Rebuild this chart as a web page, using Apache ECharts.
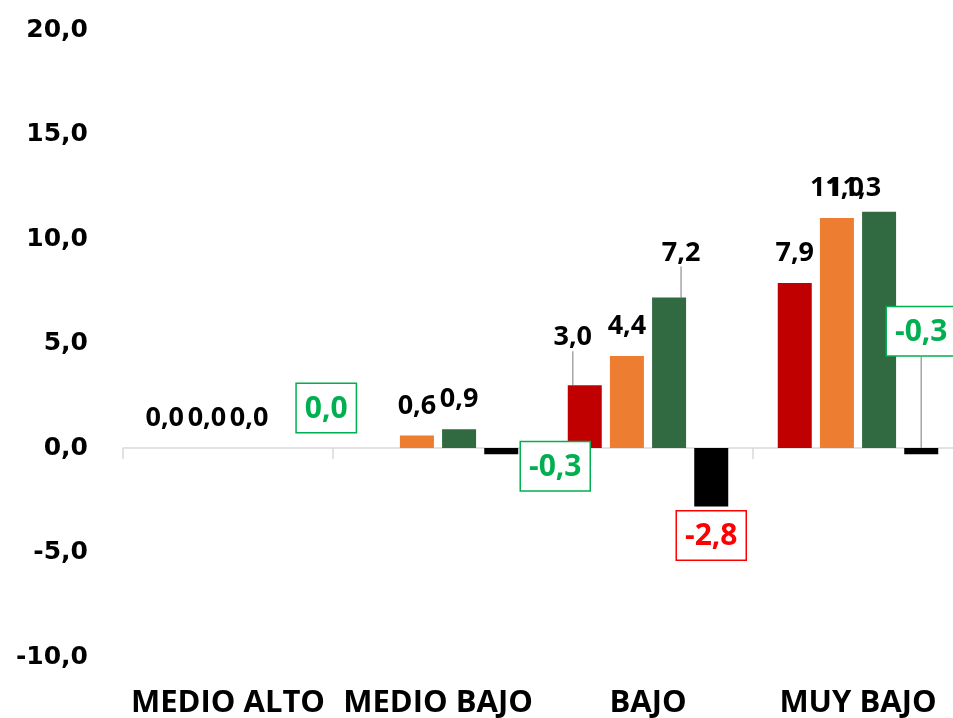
<!DOCTYPE html>
<html>
<head>
<meta charset="utf-8">
<title>Variación por nivel</title>
<script src="https://cdn.jsdelivr.net/npm/echarts@6/dist/echarts.min.js"></script>
<style>
  html, body { margin: 0; padding: 0; background: #fff; }
  #main { width: 953px; height: 718px; }
</style>
</head>
<body>
<div id="main"></div>
<script>
// datos
var categorias = ['MEDIO ALTO', 'MEDIO BAJO', 'BAJO', 'MUY BAJO'];
var serieRoja = [0.0, null, 3.0, 7.9];
var serieNaranja = [0.0, 0.6, 4.4, 11.0];
var serieVerde = [0.0, 0.9, 7.2, 11.3];
var diferencia = [0.0, -0.3, -2.8, -0.3];
var ticksY = [-10, -5, 0, 5, 10, 15, 20];

// colores
var ROJO = '#C00000';
var NARANJA = '#ED7D31';
var VERDE = '#316940';
var TXT_VERDE = '#00B050';
var TXT_ROJO = '#FF0000';

// desplazamiento de etiquetas (como se movieron a mano en el original)
// clave: serie-indice -> [dx, dy]
var moverEtiqueta = {
  '0-2': [-12, -18],
  '2-2': [12, -15],
  '2-3': [-25, 6],
  '3-0': [35, -69],
  '3-1': [54, -17],
  '3-3': [0, -152]
};
// etiquetas con linea guia
var conLinea = { '0-2': true, '2-2': true, '3-3': true };

function fmt(v) {
  return v.toFixed(1).replace('.', ',');
}

var etiquetaNormal = {
  show: true,
  position: 'top',
  distance: 16,
  fontFamily: 'Open Sans',
  fontWeight: 'bold',
  fontSize: 27,
  color: '#000',
  formatter: function (p) { return p.value == null ? '' : fmt(p.value); }
};

function datosConLinea(arr, serie) {
  return arr.map(function (v, i) {
    var item = { value: v };
    if (conLinea[serie + '-' + i]) {
      item.labelLine = { show: true, lineStyle: { color: '#A6A6A6', width: 1.5 } };
    }
    return item;
  });
}

var datosDif = diferencia.map(function (v, i) {
  var c = v < -1 ? TXT_ROJO : TXT_VERDE;
  var item = { value: v, label: { color: c, borderColor: c } };
  if (conLinea['3-' + i]) {
    item.labelLine = { show: true, lineStyle: { color: '#A6A6A6', width: 1.5 } };
  }
  return item;
});

var chart = echarts.init(document.getElementById('main'));

chart.setOption({
  animation: false,
  grid: { left: 123, top: 30, width: 840, bottom: 61, outerBoundsMode: 'none' },
  xAxis: {
    type: 'category',
    data: categorias,
    axisLine: { onZero: true, lineStyle: { color: '#D9D9D9', width: 1.5 } },
    axisTick: { show: true, length: 11, lineStyle: { color: '#D9D9D9', width: 1.5 } },
    axisLabel: {
      interval: 0,
      margin: 31,
      fontFamily: 'Open Sans',
      fontWeight: 'bold',
      fontSize: 31,
      color: '#000'
    },
    splitLine: { show: false }
  },
  yAxis: {
    type: 'value',
    min: ticksY[0],
    max: ticksY[ticksY.length - 1],
    interval: 5,
    axisLine: { show: false },
    axisTick: { show: false },
    splitLine: { show: false },
    axisLabel: {
      margin: 35,
      fontFamily: 'DejaVu Sans',
      fontWeight: 'bold',
      fontSize: 25,
      color: '#000',
      formatter: function (v) { return fmt(v); }
    }
  },
  series: [ROJO, NARANJA, VERDE].map(function (col, s) {
    return {
      type: 'bar',
      data: datosConLinea([serieRoja, serieNaranja, serieVerde][s], s),
      barWidth: 34,
      barGap: '24%',
      itemStyle: { color: col },
      label: etiquetaNormal
    };
  }).concat([{
    type: 'bar',
    data: datosDif,
    barWidth: 34,
    barGap: '24%',
    itemStyle: { color: '#000' },
    label: {
      show: true,
      position: 'outside',
      distance: 5,
      fontFamily: 'Open Sans',
      fontWeight: 'bold',
      fontSize: 30,
      backgroundColor: '#fff',
      borderWidth: 1.5,
      padding: [10, 8, 8, 8],
      formatter: function (p) { return fmt(p.value); }
    }
  }])
});

// aplicar desplazamientos de etiquetas a cada serie
chart.setOption({
  series: [0, 1, 2, 3].map(function (s) {
    return {
      labelLayout: function (p) {
        var d = moverEtiqueta[s + '-' + p.dataIndex];
        return d ? { dx: d[0], dy: d[1] } : {};
      }
    };
  })
});
</script>
</body>
</html>
